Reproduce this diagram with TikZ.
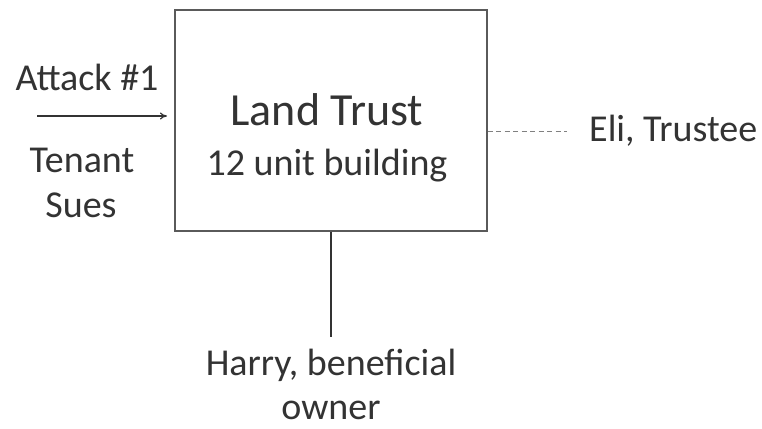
\documentclass[tikz,border=0pt]{standalone}
\usepackage{fontspec}
\setmainfont{Carlito}
\usetikzlibrary{arrows.meta,positioning}
\definecolor{inkgray}{HTML}{333333}
\definecolor{boxgray}{HTML}{5A5A5A}

\begin{document}
\begin{tikzpicture}[x=1pt,y=-1pt]
                        \tikzset{Label/.style={%
                                text=inkgray,%
                                inner sep=0pt,%
                                anchor=base,%
                                font=\fontsize{38}{44}\selectfont,%
                            }}
                        \useasboundingbox (0,0) rectangle (762,428);

                            \node[draw=boxgray, line width=1.4pt, minimum width=312pt, minimum height=221pt, inner sep=0pt] (trust) at (331,120.5) {};
                            \node[Label, font=\fontsize{46}{50}\selectfont] (name) at (327,125) {Land Trust};
                            \node[Label] (unit) at (327,175) {12 unit building};

                            \node[Label] (attack) at (87,90) {Attack \#1};
                            \node[Label] (tenant) at (82,172) {Tenant};
                            \node[Label] (sues) at (81,217) {Sues};
                            \coordinate (from) at (37,116);
                            \coordinate (to) at (167,116);

                            \node[Label, anchor=west] (eli) at (589,131) {Eli, Trustee};
                            \node[Label, anchor=north, align=center] (harry) at (331,349) {Harry, beneficial\\owner};

                            \path (from) edge[-{To[length=7pt,width=7pt]},line width=1.2pt,draw=inkgray] (to);
                            \path (trust.east |- eli.west) edge[dashed,dash pattern=on 5pt off 3.5pt,line width=1pt,draw=gray] ([xshift=-22pt]eli.west);
                            \path (trust.south -| harry.north) edge[-,line width=1.6pt,draw=inkgray] ([yshift=12pt]harry.north);
                    \end{tikzpicture}
\end{document}
